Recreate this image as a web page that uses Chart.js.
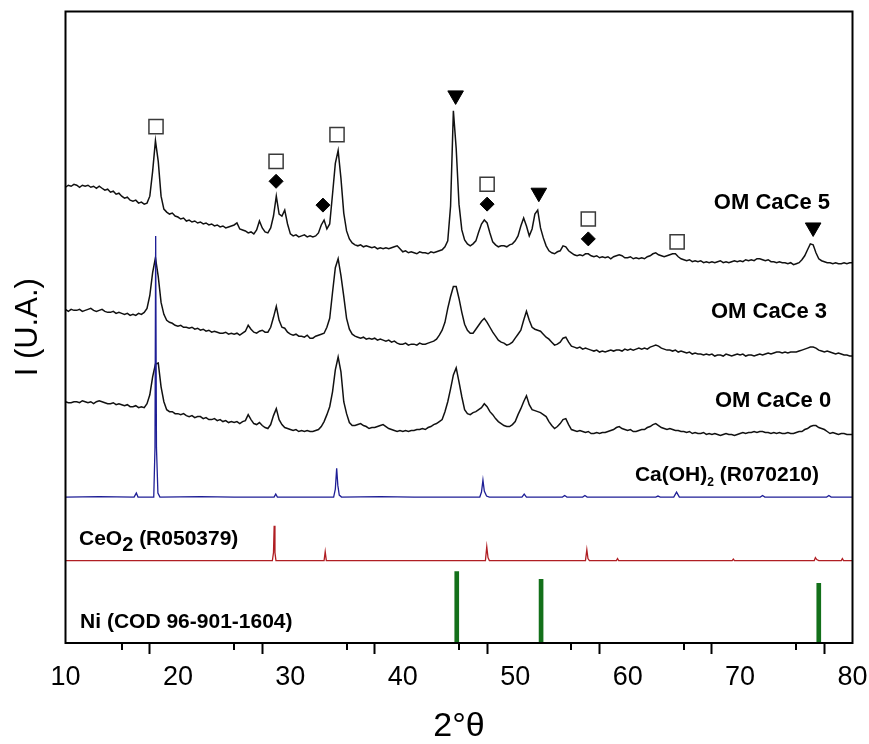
<!DOCTYPE html>
<html>
<head>
<meta charset="utf-8">
<script src="https://cdn.jsdelivr.net/npm/chart.js@4.4.0/dist/chart.umd.min.js"></script>
<style>
    html, body { margin: 0; padding: 0; background: #fff; }
    #wrap { width: 869px; height: 744px; position: relative; }
</style>
</head>
<body>
<div id="wrap"><canvas id="xrdChart"></canvas></div>
<script>
// scan grid of the measured patterns (2theta, degrees)
const scanStart = 10;
const scanStep = 0.25;

// measured patterns, one value per scan step (rows of 5 degrees)
const omCaCe5 = [
    79, 81, 80, 82, 81, 79, 81, 80, 81, 79, 80, 78, 80, 78, 76, 77, 74, 75, 72, 73,
    70, 68, 69, 66, 65, 66, 63, 64, 62, 63, 70, 95, 126, 105, 70, 57, 54, 52, 53, 50,
    49, 47, 48, 45, 46, 44, 45, 43, 44, 42, 43, 41, 42, 40, 41, 39, 40, 38, 39, 40,
    41, 43, 37, 36, 35, 33, 34, 32, 36, 45, 38, 34, 33, 38, 50, 70, 52, 50, 56, 42,
    32, 30, 31, 29, 30, 31, 29, 30, 29, 30, 33, 41, 46, 37, 42, 72, 103, 116, 88, 53,
    35, 27, 23, 21, 20, 21, 19, 20, 19, 18, 19, 17, 18, 17, 18, 17, 18, 19, 20, 17,
    14, 15, 13, 14, 13, 12, 14, 13, 13, 12, 14, 13, 14, 15, 16, 19, 25, 60, 156, 118,
    62, 36, 26, 22, 20, 22, 25, 34, 42, 46, 43, 33, 24, 21, 19, 20, 20, 19, 21, 22,
    25, 30, 40, 48, 40, 30, 37, 52, 56, 38, 28, 20, 15, 13, 12, 14, 15, 20, 19, 15,
    13, 11, 10, 11, 10, 12, 12, 10, 9, 10, 8, 9, 8, 9, 7, 9, 10, 11, 10, 8,
    8, 9, 7, 8, 7, 8, 7, 9, 10, 12, 13, 11, 10, 9, 10, 11, 12, 12, 9, 7,
    6, 5, 6, 4, 5, 4, 5, 3, 4, 3, 4, 3, 4, 5, 3, 4, 3, 4, 5, 4,
    5, 4, 6, 5, 6, 5, 7, 7, 6, 5, 6, 4, 4, 3, 4, 3, 3, 2, 3, 1,
    2, 3, 6, 10, 16, 22, 21, 13, 7, 5, 4, 3, 3, 2, 3, 2, 2, 3, 2, 3,
    3
];

const omCaCe3 = [
    51, 49, 51, 50, 50, 51, 49, 50, 51, 52, 50, 49, 50, 51, 49, 48, 48, 49, 47, 48,
    47, 46, 47, 45, 46, 45, 47, 46, 48, 52, 65, 88, 103, 84, 58, 46, 40, 38, 37, 35,
    34, 35, 33, 33, 32, 33, 31, 32, 30, 31, 29, 30, 28, 29, 28, 27, 27, 28, 26, 27,
    26, 27, 25, 27, 29, 35, 31, 28, 27, 29, 30, 28, 28, 33, 43, 54, 40, 33, 32, 28,
    26, 25, 26, 24, 24, 23, 25, 22, 22, 24, 25, 26, 27, 33, 42, 68, 93, 102, 85, 64,
    42, 31, 26, 24, 23, 22, 23, 21, 22, 21, 22, 20, 21, 20, 19, 20, 18, 19, 17, 16,
    16, 17, 15, 16, 16, 15, 17, 16, 16, 17, 18, 19, 21, 25, 30, 38, 52, 64, 74, 74,
    62, 48, 36, 30, 27, 27, 31, 35, 39, 42, 38, 33, 28, 24, 20, 18, 17, 15, 16, 18,
    22, 26, 30, 40, 49, 40, 33, 31, 30, 29, 26, 23, 21, 18, 15, 16, 18, 22, 23, 18,
    14, 13, 12, 13, 11, 12, 11, 10, 9, 10, 8, 9, 8, 9, 10, 9, 10, 10, 9, 11,
    10, 11, 10, 11, 12, 11, 12, 11, 13, 14, 15, 14, 12, 11, 10, 10, 9, 10, 8, 9,
    8, 7, 8, 6, 7, 6, 6, 5, 6, 5, 6, 4, 5, 5, 4, 6, 5, 4, 5, 6,
    5, 6, 4, 5, 5, 4, 5, 6, 5, 6, 7, 6, 7, 8, 8, 7, 8, 7, 8, 8,
    8, 9, 10, 11, 12, 13, 13, 12, 10, 9, 8, 9, 8, 7, 6, 7, 6, 5, 5, 4,
    4
];

const omCaCe0 = [
    38, 37, 37, 38, 38, 37, 39, 38, 37, 38, 36, 38, 39, 38, 37, 36, 36, 37, 35, 36,
    35, 34, 35, 33, 33, 34, 32, 33, 32, 36, 45, 63, 76, 77, 53, 38, 30, 28, 28, 26,
    26, 25, 26, 24, 23, 24, 22, 23, 23, 21, 22, 20, 20, 21, 19, 20, 18, 19, 17, 18,
    17, 18, 16, 18, 19, 25, 20, 16, 15, 17, 14, 12, 11, 15, 24, 31, 20, 15, 12, 11,
    10, 9, 10, 8, 9, 8, 9, 8, 8, 9, 10, 13, 18, 25, 33, 48, 70, 83, 68, 38,
    26, 17, 14, 14, 15, 16, 14, 13, 11, 12, 12, 13, 14, 15, 13, 11, 10, 9, 8, 9,
    8, 9, 8, 9, 9, 10, 10, 11, 10, 12, 13, 15, 16, 18, 20, 28, 38, 51, 65, 72,
    58, 43, 30, 26, 25, 27, 28, 30, 32, 36, 33, 28, 25, 21, 18, 16, 14, 13, 13, 15,
    18, 25, 31, 38, 44, 35, 30, 29, 28, 27, 25, 23, 18, 14, 11, 13, 16, 20, 21, 15,
    10, 9, 8, 9, 8, 7, 8, 6, 6, 7, 6, 7, 7, 8, 9, 10, 12, 13, 11, 10,
    9, 10, 8, 8, 9, 10, 10, 12, 13, 15, 16, 14, 12, 11, 10, 11, 10, 9, 9, 8,
    8, 7, 8, 6, 7, 6, 6, 7, 5, 6, 5, 6, 5, 4, 5, 6, 5, 5, 4, 5,
    6, 7, 6, 7, 7, 8, 7, 8, 8, 7, 7, 6, 7, 6, 7, 6, 6, 7, 6, 6,
    7, 8, 8, 10, 11, 13, 14, 14, 12, 11, 10, 8, 6, 7, 6, 5, 6, 6, 5, 5,
    5
];

// reference patterns as [2theta, intensity]
const caOH2Ref = [
    [10, 0], [13, 0.5], [16.1, 0], [16.3, 4], [16.45, 0], [17.85, 0], [17.96, 50], [18.02, 263],
    [18.09, 50], [18.22, 4], [18.4, 0], [22, 0.5], [25, 0], [28.55, 0], [28.7, 3], [28.85, 0],
    [33.85, 0], [34.0, 8], [34.12, 29], [34.22, 12], [34.35, 2], [34.55, 0], [38, 0.5], [41, 0],
    [46.85, 0], [47.0, 5], [47.13, 17], [47.25, 6], [47.45, 1], [47.7, 0], [50.6, 0], [50.8, 3],
    [51.0, 0], [54.2, 0], [54.4, 1.5], [54.6, 0], [56.0, 0], [56.2, 1.5], [56.4, 0], [62.5, 0],
    [62.7, 1], [62.9, 0], [64.1, 0], [64.35, 5], [64.6, 0], [71.8, 0], [72.0, 1.5], [72.2, 0],
    [77.7, 0], [77.9, 1.5], [78.1, 0], [80, 0]
];

const ceO2Ref = [
    [10, 0], [28.4, 0], [28.5, 8], [28.56, 35], [28.63, 8], [28.72, 0], [33.0, 0], [33.1, 9],
    [33.2, 0], [47.35, 0], [47.47, 14], [47.58, 3], [47.7, 0], [56.25, 0], [56.37, 11], [56.47, 2],
    [56.6, 0], [59.0, 0], [59.1, 2], [59.2, 0], [69.3, 0], [69.4, 1.5], [69.5, 0], [76.6, 0],
    [76.7, 3], [76.82, 1], [77.0, 0], [79.0, 0], [79.1, 2], [79.2, 0], [80, 0]
];

const niPositions = [44.8, 52.3, 77.0];
const niHeights = [72, 64, 60];

// vertical stacking offsets
const offsetCaCe5 = 380;
const offsetCaCe3 = 285;
const offsetCaCe0 = 205;
const offsetCaOH2 = 147;
const offsetCeO2 = 83;

// phase markers on OM CaCe 5: [2theta, height]
const caOH2Marks = [[18.05, 520], [28.73, 485], [34.15, 512], [47.5, 462], [56.5, 427], [64.4, 404]];
const ceO2Marks = [[28.73, 465], [32.9, 441], [47.5, 442], [56.5, 407]];
const niMarks = [[44.7, 551.5], [52.1, 453.5], [76.5, 418.5]];

// axis
const xMin = 10;
const xMax = 80;
const xTickLabels = [10, 20, 30, 40, 50, 60, 70, 80];
const xMinorTicks = [15, 25, 35, 45, 55, 65, 75];

// trace names
const traceNames = [
    [{ t: "OM CaCe 5" }],
    [{ t: "OM CaCe 3" }],
    [{ t: "OM CaCe 0" }],
    [{ t: "Ca(OH)" }, { t: "2", sub: 12, drop: 5 }, { t: " (R070210)" }],
    [{ t: "CeO" }, { t: "2", sub: 20, drop: 6 }, { t: " (R050379)" }],
    [{ t: "Ni (COD 96-901-1604)" }],
];
const nameAnchors = [
    { x: 78.0, y: 445, align: "right", size: 22 },
    { x: 77.74, y: 335, align: "right", size: 22 },
    { x: 78.1, y: 246, align: "right", size: 22 },
    { x: 60.65, y: 171, align: "left", size: 21 },
    { x: 11.2, y: 106, align: "left", size: 21 },
    { x: 11.3, y: 23, align: "left", size: 21 },
];

const FONT = '"Liberation Sans", Arial, sans-serif';

const twoTheta = omCaCe5.map((_, i) => scanStart + i * scanStep);
const stackScan = (vals, off) => vals.map((v, i) => ({ x: twoTheta[i], y: v + off }));
const stackRef = (pairs, off) => pairs.map(([x, v]) => ({ x: x, y: v + off }));
const toPoints = (pairs) => pairs.map(([x, y]) => ({ x: x, y: y }));

function drawName(ctx, parts, px, py, align, size) {
    const fonts = parts.map((p) => `bold ${p.sub || size}px ${FONT}`);
    let total = 0;
    parts.forEach((p, i) => {
        ctx.font = fonts[i];
        total += ctx.measureText(p.t).width;
    });
    let cx = align === "right" ? px - total : px;
    const baseline = py + size * 0.358;
    ctx.textAlign = "left";
    ctx.textBaseline = "alphabetic";
    parts.forEach((p, i) => {
        ctx.font = fonts[i];
        ctx.fillText(p.t, cx, baseline + (p.drop || 0));
        cx += ctx.measureText(p.t).width;
    });
}

const frameAndNames = {
    id: "frameAndNames",
    afterDatasetsDraw(chart) {
        const { ctx, chartArea: a, scales } = chart;
        const x = scales.x;
        const y = scales.y;
        ctx.save();
        ctx.strokeStyle = "#000";
        ctx.lineWidth = 2;
        ctx.strokeRect(a.left, a.top, a.right - a.left, a.bottom - a.top);

        // shorter minor ticks
        ctx.beginPath();
        xMinorTicks.forEach((v) => {
            const px = Math.round(x.getPixelForValue(v));
            ctx.moveTo(px, a.bottom);
            ctx.lineTo(px, a.bottom + 7);
        });
        ctx.stroke();

        ctx.fillStyle = "#000";
        traceNames.forEach((parts, i) => {
            const an = nameAnchors[i];
            drawName(ctx, parts, x.getPixelForValue(an.x), y.getPixelForValue(an.y), an.align, an.size);
        });
        ctx.restore();
    },
};

const ctx = document.getElementById("xrdChart").getContext("2d");

new Chart(ctx, {
    type: "line",
    data: {
        datasets: [
            {
                type: "scatter",
                data: toPoints(caOH2Marks),
                pointStyle: "rect",
                pointRadius: 10,
                pointBackgroundColor: "#fff",
                pointBorderColor: "#3a3a3a",
                pointBorderWidth: 1.5,
            },
            {
                type: "scatter",
                data: toPoints(ceO2Marks),
                pointStyle: "rectRot",
                pointRadius: 7,
                pointBackgroundColor: "#000",
                pointBorderColor: "#000",
                pointBorderWidth: 1,
            },
            {
                type: "scatter",
                data: toPoints(niMarks),
                pointStyle: "triangle",
                rotation: 180,
                pointRadius: 9,
                pointBackgroundColor: "#000",
                pointBorderColor: "#000",
                pointBorderWidth: 1,
            },
            {
                data: stackRef(caOH2Ref, offsetCaOH2),
                borderColor: "#1e1e96",
                borderWidth: 1.3,
            },
            {
                data: stackRef(ceO2Ref, offsetCeO2),
                borderColor: "#b01e23",
                borderWidth: 1.3,
            },
            {
                type: "bar",
                data: niPositions.map((p, i) => ({ x: p, y: niHeights[i] })),
                backgroundColor: "#13701a",
                barThickness: 4,
            },
            {
                data: stackScan(omCaCe5, offsetCaCe5),
                borderColor: "#111",
                borderWidth: 1.5,
            },
            {
                data: stackScan(omCaCe3, offsetCaCe3),
                borderColor: "#111",
                borderWidth: 1.5,
            },
            {
                data: stackScan(omCaCe0, offsetCaCe0),
                borderColor: "#111",
                borderWidth: 1.5,
            },
        ],
    },
    options: {
        responsive: true,
        maintainAspectRatio: false,
        animation: false,
        layout: {
            padding: { left: 0, right: 16.5, top: 7, bottom: 0 },
        },
        elements: {
            point: { radius: 0 },
            line: { tension: 0 },
        },
        plugins: {
            legend: { display: false },
            tooltip: { enabled: false },
        },
        scales: {
            x: {
                type: "linear",
                min: xMin,
                max: xMax,
                offset: false,
                afterFit: (scale) => {
                    scale.height = 101;
                    // end labels fit in the page margins
                    scale.paddingLeft = 0;
                    scale.paddingRight = 0;
                },
                border: { display: false },
                grid: {
                    drawOnChartArea: false,
                    drawTicks: true,
                    tickLength: 11,
                    tickWidth: 2,
                    tickColor: (c) => (c.tick && xTickLabels.includes(c.tick.value) ? "#000" : "rgba(0,0,0,0)"),
                },
                ticks: {
                    stepSize: 5,
                    autoSkip: false,
                    maxRotation: 0,
                    padding: 7,
                    color: "#000",
                    font: { family: FONT, size: 27 },
                    callback: (v) => (xTickLabels.includes(v) ? String(v) : ""),
                },
                title: {
                    display: true,
                    text: "2°θ",
                    color: "#000",
                    padding: 0,
                    font: { family: FONT, size: 34, lineHeight: 1 },
                },
            },
            y: {
                min: 0,
                max: 636,
                afterFit: (scale) => {
                    scale.width = 65.5;
                },
                border: { display: false },
                grid: { display: false },
                ticks: { display: false },
                title: {
                    display: true,
                    text: "I (U.A.)",
                    color: "#000",
                    padding: { top: 10, bottom: 0 },
                    font: { family: FONT, size: 31 },
                },
            },
        },
    },
    plugins: [frameAndNames],
});
</script>
</body>
</html>
